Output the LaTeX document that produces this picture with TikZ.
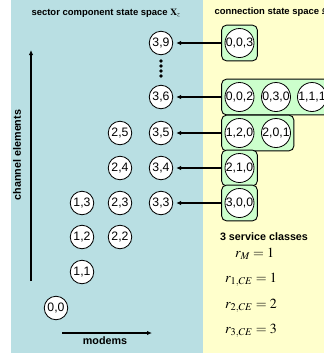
\documentclass[tikz,border=0pt]{standalone}
\usepackage{mathptmx}
\usepackage[no-math]{fontspec}
\setmainfont{Liberation Sans}
\usetikzlibrary{arrows.meta,fit,backgrounds}
\definecolor{sectorbg}{RGB}{185,223,227}
\definecolor{connbg}{RGB}{255,255,204}
\definecolor{connbox}{RGB}{204,255,204}
\newcommand{\st}[1]{\makebox[0pt]{#1}}
\newcommand{\hdr}{\fontsize{9.5}{11}\selectfont\bfseries}
\newcommand{\lbl}{\fontsize{10.8}{12}\selectfont\bfseries}

\begin{document}
\begin{tikzpicture}[x=1bp,y=-1bp,
  sstate/.style={circle,draw,fill=white,line width=0.8bp,minimum size=23.5bp,inner sep=0pt,font=\fontsize{12.3}{14}\selectfont},
  cstate/.style={sstate,minimum size=29bp},
  cbox/.style={draw,line width=0.9bp,rounded corners=5bp,fill=connbox,inner sep=3bp},
  feed/.style={-{Latex[length=5bp,width=4.5bp]},line width=1.5bp,shorten >=3bp},
  axis/.style={-{Latex[length=5bp,width=4.5bp]},line width=1.8bp},
  rate/.style={anchor=west,inner sep=0pt,font=\fontsize{14}{16}\selectfont}]
\useasboundingbox (0,0) rectangle (324,356);
\clip (0,0) rectangle (324,356);
% headers
\node[font=\hdr] (shdr) at (106,13) {sector component state space $\mathbf{X}_z$};
\node[font=\hdr,anchor=west] (chdr) at (211,12) {connection state space $\Omega$};
% sector component states (modems, channel elements)
\foreach \m/\c/\x/\y in {0/0/56/308, 1/1/82/272, 1/2/82/237, 1/3/82/203,
    2/2/120/237, 2/3/120/203, 2/4/120/168, 2/5/120/133,
    3/3/161/203, 3/4/161/168, 3/5/161/133, 3/6/161/97, 3/9/161/43}
  \node[sstate] (s\m\c) at (\x,\y) {\st{\m,\c}};
\foreach \y in {61,66,71,76}
  \fill (161,\y) circle (1.8bp);
% connection states
\node[cstate] (c003) at (239.5,43) {\st{0,0,3}};
\node[cstate] (c002) at (239.5,97) {\st{0,0,2}};
\node[cstate] (c030) at (276,97) {\st{0,3,0}};
\node[cstate] (c111) at (312,97) {\st{1,1,1}};
\node[cstate] (c120) at (239.5,133) {\st{1,2,0}};
\node[cstate] (c201) at (276,133) {\st{2,0,1}};
\node[cstate] (c210) at (239.5,168) {\st{2,1,0}};
\node[cstate] (c300) at (239.5,203) {\st{3,0,0}};
\begin{scope}[on background layer]
\fill[sectorbg] (11,0) rectangle (203,353);
\fill[connbg] (203,0) rectangle (324,353);
\node[cbox,fit=(c003)] (b39) {};
\node[cbox,fit=(c002)(c111)] (b36) {};
\node[cbox,fit=(c120)(c201)] (b35) {};
\node[cbox,fit=(c210)] (b34) {};
\node[cbox,fit=(c300)] (b33) {};
\end{scope}
\draw[feed] (b39) -- (s39);
\draw[feed] (b36.west |- c002) -- (s36);
\draw[feed] (b35) -- (s35);
\draw[feed] (b34) -- (s34);
\draw[feed] (b33) -- (s33);
% axes
\coordinate (ch0) at (31,281);
\coordinate (ch1) at (31,50);
\draw[axis] (ch0) -- (ch1);
\node[font=\lbl,rotate=90] (chl) at (17,155) {channel elements};
\coordinate (md0) at (62,333);
\coordinate (md1) at (152,333);
\draw[axis] (md0) -- (md1);
\node[font=\lbl] (mdl) at (105,341) {modems};
% service classes
\node[font=\lbl] (svc) at (264,237) {3 service classes};
\node[rate] (rm) at (235,254) {$r_M=1$};
\node[rate] (r1) at (225,280) {$r_{1,CE}=1$};
\node[rate] (r2) at (225,306) {$r_{2,CE}=2$};
\node[rate] (r3) at (225,331) {$r_{3,CE}=3$};
\end{tikzpicture}
\end{document}
